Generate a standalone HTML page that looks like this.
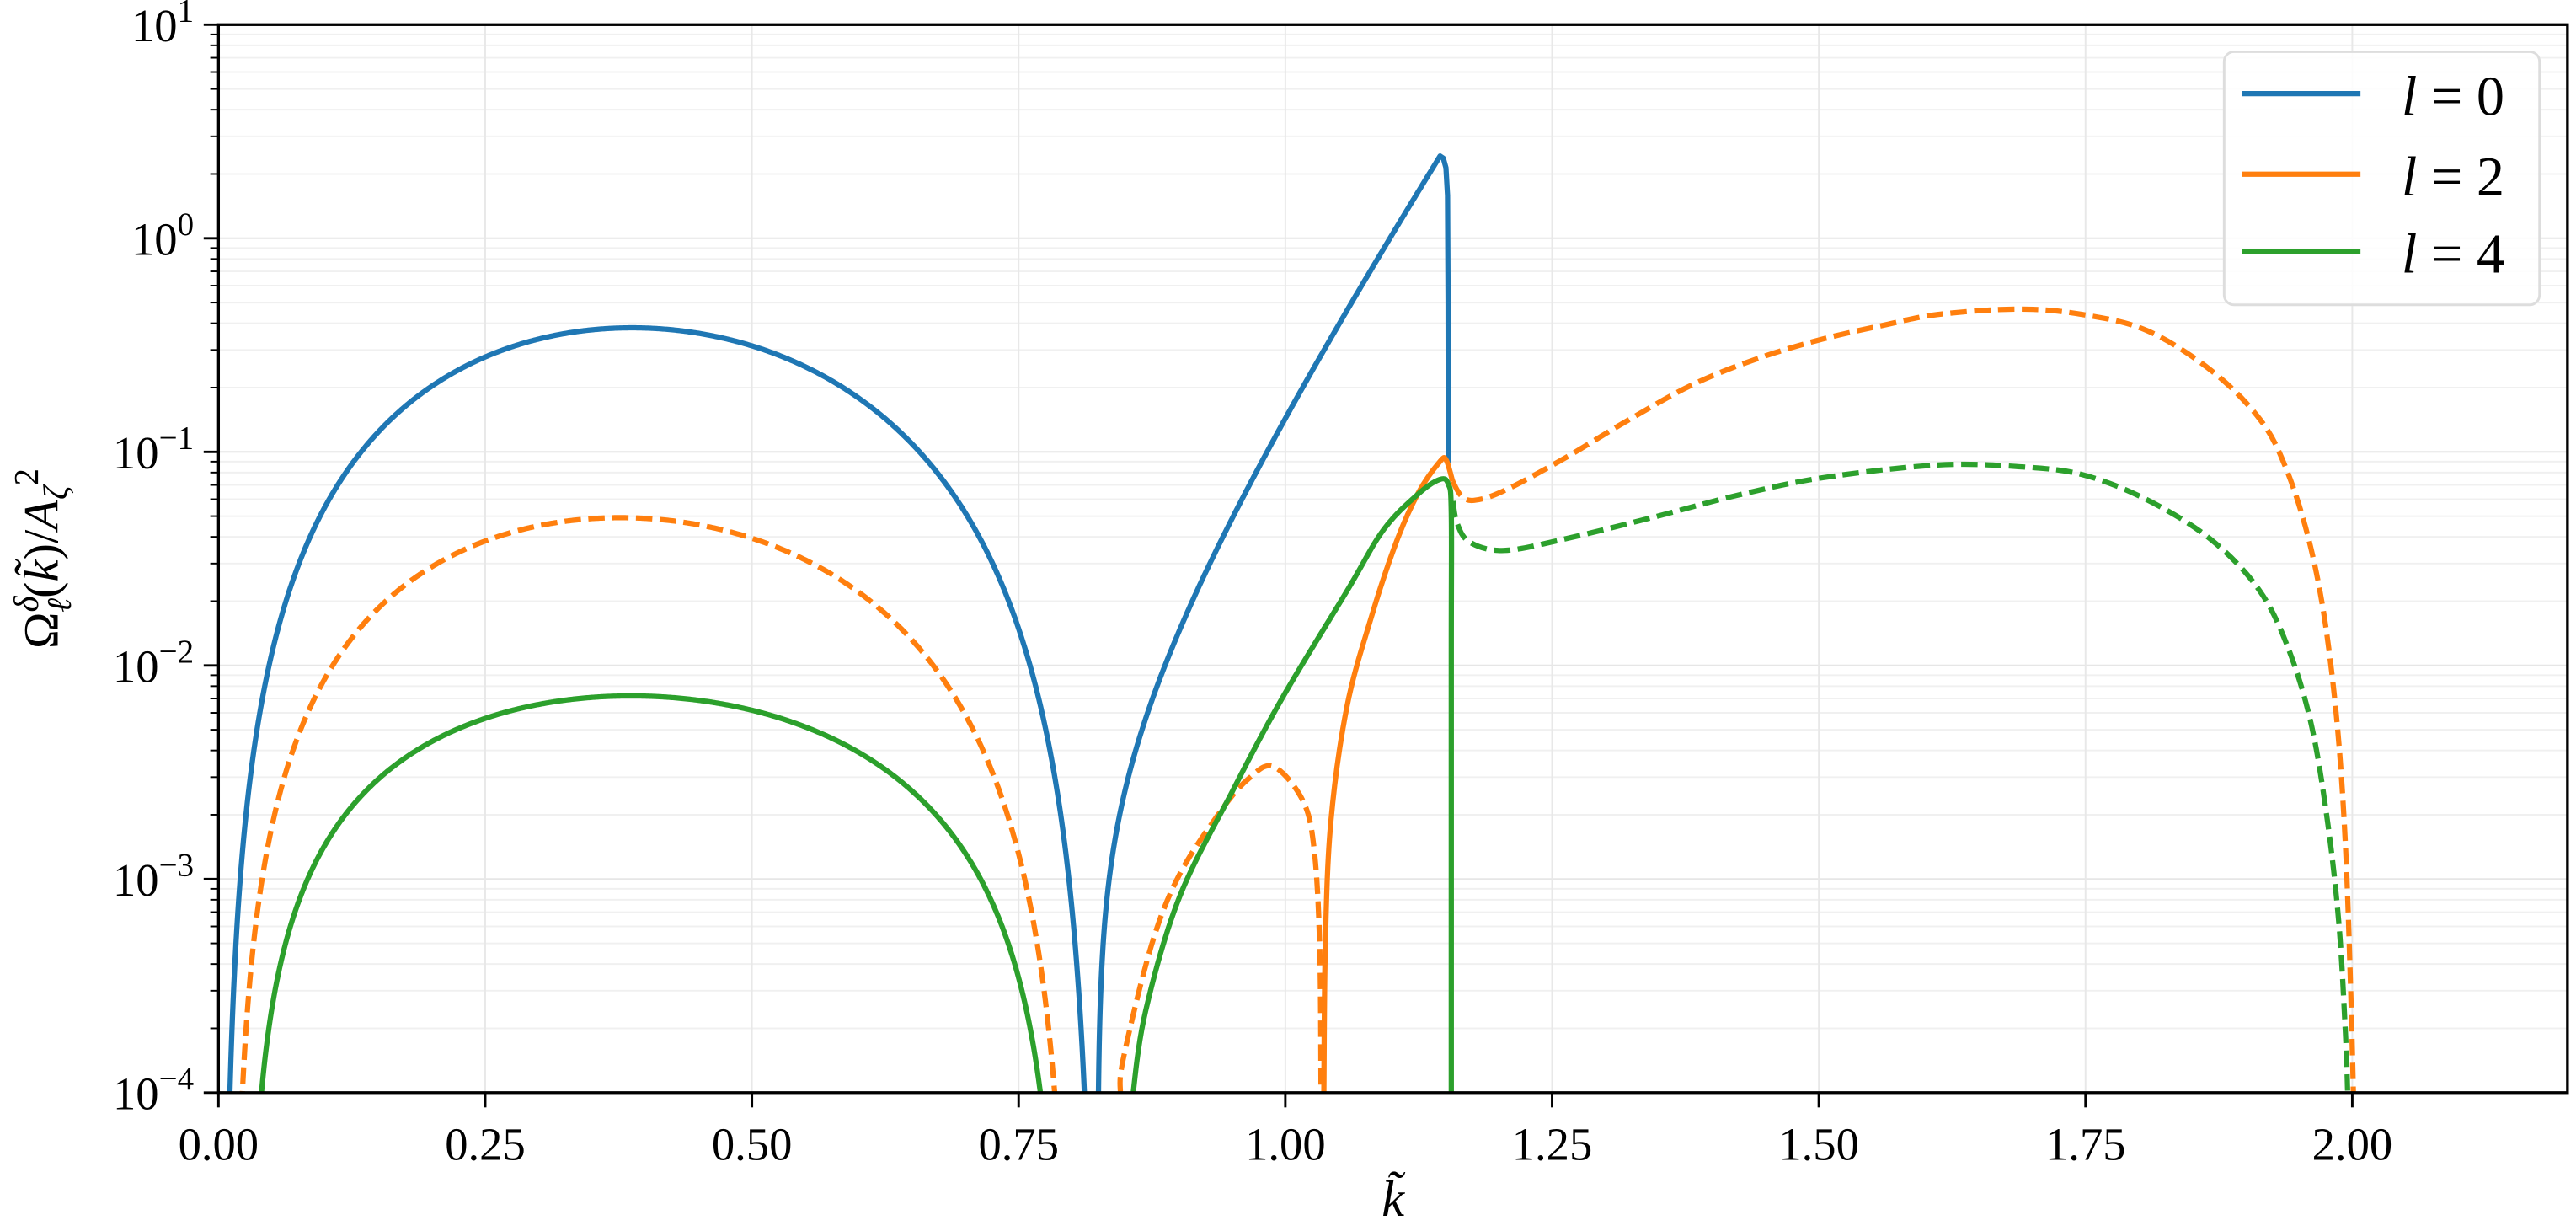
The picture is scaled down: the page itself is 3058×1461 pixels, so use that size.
<!DOCTYPE html>
<html><head><meta charset="utf-8">
<style>
html,body{margin:0;padding:0;background:#fff;}
svg{display:block;}
text{font-family:"Liberation Serif","DejaVu Serif",serif;fill:#000;}
</style></head>
<body>
<svg id="s" width="3058" height="1461" viewBox="0 0 1568.2 749.2" xmlns="http://www.w3.org/2000/svg">
<defs><clipPath id="c"><rect x="133" y="15" width="1430" height="650"/></clipPath></defs>
<g id="grid"></g>
<g id="curves" clip-path="url(#c)" fill="none" stroke-width="3.2" stroke-linejoin="round"></g>
<rect x="133" y="15" width="1430" height="650" fill="none" stroke="#000" stroke-width="1.7"/>
<g id="ticks" stroke="#000" stroke-width="1.5"></g>
<g id="labels" font-size="28"></g>
<text x="0" y="0" font-size="30" transform="translate(35,340) rotate(-90)" text-anchor="middle">Ω<tspan font-style="italic" font-size="21" dy="-12">δ</tspan><tspan font-style="italic" font-size="21" dx="-10" dy="20">ℓ</tspan><tspan dy="-8">(</tspan><tspan font-style="italic">k̃</tspan>)/<tspan font-style="italic">A</tspan><tspan font-style="italic" font-size="21" dy="6">ζ</tspan><tspan font-size="21" dy="-18">2</tspan></text>
<text x="848" y="740" font-size="31" font-style="italic" text-anchor="middle">k̃</text>
<g>
<rect x="1354" y="31.5" width="192" height="154" rx="6" fill="#fff" fill-opacity="0.85" stroke="#ddd" stroke-width="1.5"/>
<line x1="1365" y1="57" x2="1437" y2="57" stroke="#1f77b4" stroke-width="3.2"/>
<line x1="1365" y1="106" x2="1437" y2="106" stroke="#ff7f0e" stroke-width="3.2"/>
<line x1="1365" y1="153" x2="1437" y2="153" stroke="#2ca02c" stroke-width="3.2"/>
<text x="1462" y="70" font-size="34"><tspan font-style="italic">l</tspan> = 0</text>
<text x="1462" y="119" font-size="34"><tspan font-style="italic">l</tspan> = 2</text>
<text x="1462" y="166" font-size="34"><tspan font-style="italic">l</tspan> = 4</text>
</g>
</svg>
<script>
(function(){
var NS="http://www.w3.org/2000/svg";
function el(p,t,a,txt){var e=document.createElementNS(NS,t);for(var k in a)e.setAttribute(k,a[k]);if(txt!=null)e.textContent=txt;p.appendChild(e);return e;}
var X=function(k){return 133+649.5*k;}, Y=function(l){return 15+(1-l)*130;};
var g=document.getElementById('grid'),t=document.getElementById('ticks'),L=document.getElementById('labels');
for(var d=-4;d<=1;d++){
  el(g,'line',{x1:133,x2:1563,y1:Y(d),y2:Y(d),stroke:'#e6e6e6','stroke-width':1});
  el(t,'line',{x1:124,x2:133,y1:Y(d),y2:Y(d)});
  var tx=el(L,'text',{x:118,y:Y(d)+10,'text-anchor':'end'});
  var a=document.createElementNS(NS,'tspan');a.textContent='10';tx.appendChild(a);
  var b=document.createElementNS(NS,'tspan');b.setAttribute('font-size','20');b.setAttribute('dy','-12');b.textContent=(d<0?'\u2212':'')+Math.abs(d);tx.appendChild(b);
  if(d<1)for(var m=2;m<=9;m++){var yy=Y(d+Math.log10(m));
    el(g,'line',{x1:133,x2:1563,y1:yy,y2:yy,stroke:'#f0f0f0','stroke-width':1});
    el(t,'line',{x1:128,x2:133,y1:yy,y2:yy,'stroke-width':1});}
}
for(var i=0;i<=8;i++){var k=i*0.25,x=X(k);
  el(g,'line',{x1:x,x2:x,y1:15,y2:665,stroke:'#e8e8e8','stroke-width':1});
  el(t,'line',{x1:x,x2:x,y1:665,y2:674});
  el(L,'text',{x:x,y:706,'text-anchor':'middle'},k.toFixed(2));
}
function path(pts){var s='M'+pts[0][0]+','+pts[0][1];
  for(var i=0;i<pts.length-1;i++){var p0=pts[i-1]||pts[i],p1=pts[i],p2=pts[i+1],p3=pts[i+2]||p2;
    var c1=[p1[0]+(p2[0]-p0[0])/6,p1[1]+(p2[1]-p0[1])/6],c2=[p2[0]-(p3[0]-p1[0])/6,p2[1]-(p3[1]-p1[1])/6];
    s+=' C'+c1[0].toFixed(1)+','+c1[1].toFixed(1)+' '+c2[0].toFixed(1)+','+c2[1].toFixed(1)+' '+p2[0].toFixed(1)+','+p2[1].toFixed(1);}
  return s;}
function poly(pts){return 'M'+pts.map(function(p){return p[0].toFixed(2)+','+p[1].toFixed(2);}).join(' L');}
var C=document.getElementById('curves');
function draw(pts,col,dash){var a={d:path(pts),stroke:col};if(dash)a['stroke-dasharray']='10,4.5';el(C,'path',a);}
function drawP(pts,col,dash){var a={d:poly(pts),stroke:col};if(dash)a['stroke-dasharray']='10,4.5';el(C,'path',a);}
function lobe(a,b,kc,P,al,be){var tc=(kc-a)/(b-a),pts=[];
  for(var i=1;i<1200;i++){var tt=i/1200;tt=0.5-0.5*Math.cos(Math.PI*tt);
    var k=a+(b-a)*tt,l=P+al*Math.log10(tt/tc)+be*Math.log10((1-tt)/(1-tc));
    if(l<-4.3)continue;pts.push([X(k),Y(l)]);}
  pts.unshift([X(a),Y(-4.4)]);pts.push([X(b),Y(-4.4)]);
  return pts;}
var B='#1f77b4',O='#ff7f0e',G='#2ca02c';
drawP(lobe(0.005,0.822,0.375,Math.log10(0.38),2.36,2.68),B);
drawP(lobe(0.014,0.80,0.36,Math.log10(0.049),2.03,2.37),O,true);
drawP(lobe(0.028,0.79,0.385,Math.log10(0.0072),1.60,1.80),G);
// blue lobe 2 analytic
(function(){var a=0.824,c=1.145,pts=[];
  for(var i=1;i<=400;i++){var tt=Math.pow(i/400,1.6),k=a+(c-a)*tt,l=0.385+0.83*Math.log10(tt)+2.24*(tt-1);
    if(l<-4.3)continue;pts.push([X(k),Y(l)]);}
  pts.unshift([X(a+0.0002),Y(-4.3)]);
  pts.push([X(1.148),Y(0.375)]);pts.push([X(1.1505),Y(0.33)]);pts.push([X(1.152),Y(0.2)]);pts.push([X(1.1525),Y(-0.3)]);pts.push([X(1.1527),Y(-1.05)]);
  drawP(pts,B);})();
// orange dashed lobe 2
draw([[681.5,680],[682,666.6],[683.7,645],[700.8,575.9],[717.9,532.5],[743.5,493.1],[760,474],[775.2,466.5],[793.1,487.2],[800,516.8],[803.4,575.9],[804.2,666.6],[804.3,680]],O,true);
// orange solid
draw([[805.8,680],[805.9,666.6],[806.8,575.9],[810.2,500],[820,430],[835,375],[850,330],[863.4,300],[876.5,281],[880.4,280],[884.3,292.8]],O);
// orange dashed 3
draw([[884.3,292.8],[889.5,301.6],[897.4,304.5],[915.7,298.6],[952.3,279],[991.6,255.5],[1030.8,233.9],[1070,218.2],[1109.3,206.4],[1148.5,197.5],[1179.5,191.4],[1228.6,188.1],[1267.8,191.4],[1307.1,201.2],[1346.4,225.7],[1375.8,255.2],[1391.5,284.6],[1405.2,327.1],[1415.1,376.2],[1422.9,441.6],[1427.8,513.5],[1430.8,595.2],[1432.7,666.5],[1432.8,680]],O,true);
// green solid lobe 2
draw([[689.5,680],[689.7,666.6],[697.4,615.4],[717.9,546.3],[750.4,481.3],[781.1,424],[820.4,359],[842.4,322.2],[863.4,300.6],[876.5,291.8],[881.7,294.7],[883.5,312.4],[883.5,400],[883.5,680]],G);
// green dashed
draw([[884.5,305],[887,318.3],[894.8,330],[915.7,335],[952.3,328.1],[1004.6,315.3],[1057,301.6],[1109.3,290.8],[1179.5,283],[1228.6,284],[1267.8,288.9],[1307.1,304.2],[1346.4,328.7],[1375.8,359.8],[1393.5,395.8],[1407.2,441.6],[1417,500.4],[1423.9,562.6],[1427.8,628],[1429.2,666.5],[1429.3,680]],G,true);
})();
</script>
</body></html>
